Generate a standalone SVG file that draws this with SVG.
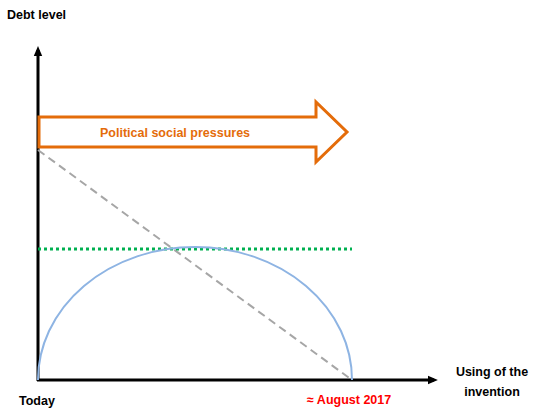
<svg xmlns="http://www.w3.org/2000/svg" width="536" height="414" viewBox="0 0 536 414">
<defs>
<style>
text{font-family:"Liberation Sans",Arial,sans-serif;font-weight:bold;font-size:12.5px;fill:#000}
.ax{stroke:#000;stroke-width:3;fill:none}
</style>
<marker id="ah" markerWidth="4" markerHeight="4" refX="2" refY="2" orient="auto" markerUnits="strokeWidth"><path d="M0,0.6 L3.3,2 L0,3.4 Z" fill="#000"/></marker>
</defs>
<rect width="536" height="414" fill="#fff"/>
<g id="connectors">
<line class="ax" x1="38" y1="381" x2="38" y2="50" marker-end="url(#ah)"/>
<line class="ax" x1="37" y1="380" x2="434" y2="380" marker-end="url(#ah)"/>
<line x1="38" y1="150" x2="352" y2="380" stroke="#A6A6A6" stroke-width="2" stroke-dasharray="8,5"/>
<line x1="38" y1="249" x2="352" y2="249" stroke="#00B050" stroke-width="3" stroke-dasharray="3,3"/>
<path d="M38,380 A157,133 0 0 1 352,380" fill="none" stroke="#8EB4E3" stroke-width="2"/>
</g>
<g id="pressure-arrow">
<path d="M39,117 L316,117 L316,102 L347,132 L316,162 L316,147 L39,147 Z" fill="#fff" stroke="#E46C0A" stroke-width="3" stroke-linejoin="miter"/>
<text x="100" y="137" style="fill:#E46C0A">Political social pressures</text>
</g>
<g id="labels">
<text x="7" y="19">Debt level</text>
<text x="19" y="405">Today</text>
<text x="307" y="404" style="fill:#FF0000">≈ August 2017</text>
<text x="492" y="376" text-anchor="middle">Using of the</text>
<text x="492" y="396" text-anchor="middle">invention</text>
</g>
</svg>
